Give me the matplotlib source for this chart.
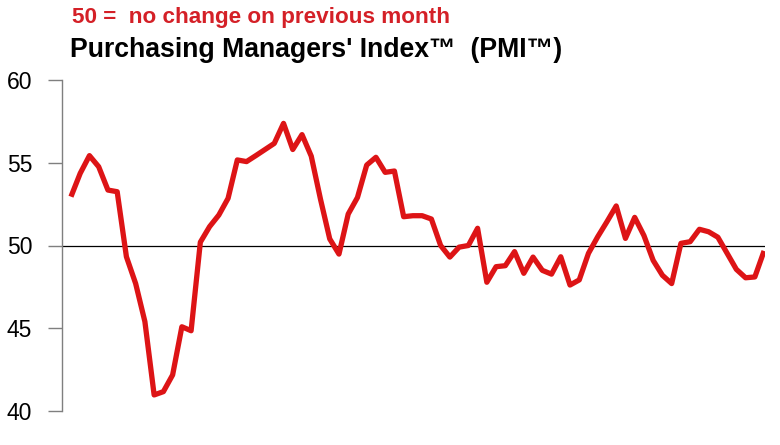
import matplotlib
matplotlib.use("Agg")
import matplotlib.pyplot as plt
import numpy as np

plt.rcParams['font.family'] = ['Liberation Sans', 'DejaVu Sans']

# Monthly PMI readings (76 months)
pmi = [52.95, 54.36, 55.43, 54.76, 53.35, 53.25, 49.32, 47.7, 45.4, 40.97,
       41.17, 42.18, 45.09, 44.85, 50.2, 51.14, 51.84, 52.85, 55.17, 55.07,
       55.43, 55.8, 56.17, 57.38, 55.8, 56.7, 55.4, 52.8, 50.4, 49.48,
       51.9, 52.9, 54.86, 55.33, 54.42, 54.5, 51.74, 51.8, 51.8, 51.6,
       50.0, 49.3, 49.9, 50.0, 51.04, 47.78, 48.72, 48.78, 49.63, 48.32,
       49.3, 48.5, 48.27, 49.32, 47.61, 47.92, 49.53, 50.53, 51.44, 52.39,
       50.43, 51.7, 50.6, 49.1, 48.2, 47.7, 50.13, 50.23, 50.98, 50.83,
       50.5, 49.53, 48.56, 48.05, 48.1, 49.67]
months = list(range(len(pmi)))
y_ticks = [40, 45, 50, 55, 60]
subtitle = "50 =  no change on previous month"
title = "Purchasing Managers' Index\u2122  (PMI\u2122)"

fig = plt.figure(figsize=(7.8, 4.45), dpi=100)
ax = fig.add_axes([62/780, 1-411/445, 703/780, 331/445])

ax.axhline(50, color='black', linewidth=0.9, zorder=1)
ax.plot(months, pmi, color='#dd1416', linewidth=3.8, solid_joinstyle='round',
        solid_capstyle='butt', zorder=2)

ax.set_ylim(40, 60)
ax.set_xlim(-0.97, 75.1)
ax.set_yticks(y_ticks)
ax.set_yticklabels([str(t) for t in y_ticks], fontsize=16.5)
ax.set_xticks([])
for s in ['top', 'right', 'bottom']:
    ax.spines[s].set_visible(False)
ax.spines['left'].set_color('#7f7f7f')
ax.spines['left'].set_linewidth(1.0)
ax.tick_params(axis='y', length=10, width=1.0, color='#7f7f7f', pad=11.5, labelcolor='black')

fig.text(72/780, 1-23.5/445, subtitle, color='#d42027', fontsize=16.2, fontweight='bold',
         ha='left', va='baseline')
fig.text(70/780, 1-57/445, title, color='black', fontsize=19.2, fontweight='bold',
         ha='left', va='baseline')

fig.savefig('out.png', dpi=100)
